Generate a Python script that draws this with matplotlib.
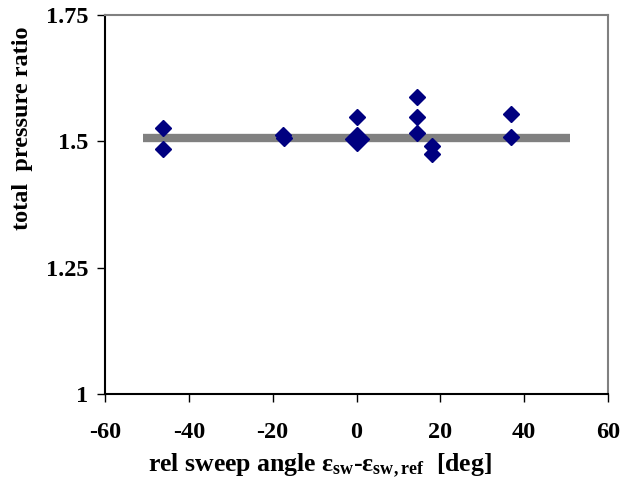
import matplotlib
matplotlib.use("Agg")
import matplotlib.pyplot as plt

plt.rcParams['font.family'] = ['Liberation Serif', 'DejaVu Serif']
plt.rcParams['font.weight'] = 'bold'
plt.rcParams['mathtext.fontset'] = 'custom'
plt.rcParams['mathtext.rm'] = 'Liberation Serif:bold'
plt.rcParams['mathtext.it'] = 'Liberation Serif:bold'
plt.rcParams['mathtext.bf'] = 'Liberation Serif:bold'

# data
sweep = [-46.1, -46.1, -17.6, -17.4, 0.2, 14.4, 14.4, 14.4, 18.1, 18.1, 36.9, 36.9]
ratio = [1.526, 1.484, 1.512, 1.507, 1.549, 1.588, 1.549, 1.516, 1.491, 1.475, 1.554, 1.508]
ref_sweep = [0.2]
ref_ratio = [1.505]
mean_x = [-51, 51]
mean_y = [1.506, 1.506]
xticks = [-60, -40, -20, 0, 20, 40, 60]
yticks = [1, 1.25, 1.5, 1.75]
ytick_labels = ['1', '1.25', '1.5', '1.75']

fig = plt.figure(figsize=(6.31, 4.92), dpi=100)
ax = fig.add_axes([105/631, 1-394/492, (608-105)/631, (394-15)/492])

ax.plot(mean_x, mean_y, color='#808080', lw=6, solid_capstyle='butt', zorder=2)
ax.plot(sweep, ratio, linestyle='none', marker='D', ms=8, color='#000080',
        markeredgecolor='#000080', zorder=3)
ax.plot(ref_sweep, ref_ratio, linestyle='none', marker='D', ms=12.5, color='#000080',
        markeredgecolor='#000080', zorder=3)

ax.set_xlim(-60, 60)
ax.set_ylim(1, 1.75)
ax.set_xticks(xticks)
ax.set_xticklabels([str(t) for t in xticks])
ax.set_yticks(yticks)
ax.set_yticklabels(ytick_labels)

for s in ['left', 'bottom']:
    ax.spines[s].set_color('black')
    ax.spines[s].set_linewidth(1.5)
for s in ['top', 'right']:
    ax.spines[s].set_color('#808080')
    ax.spines[s].set_linewidth(1.5)

ax.tick_params(axis='both', direction='out', length=6, width=1, labelsize=17.5)
ax.tick_params(axis='x', pad=14)
ax.tick_params(axis='y', pad=6)

fig.text(320/631, 1-466/492,
         r'rel sweep angle $\varepsilon_{\rm sw}$-$\varepsilon_{\rm sw,ref}$  [deg]',
         ha='center', va='center', fontsize=18.5, fontweight='bold')
fig.text(23/631, 1-128/492, 'total  pressure ratio', rotation=90, ha='center', va='center',
         fontsize=17.5, fontweight='bold')

fig.savefig('out.png', dpi=100)
